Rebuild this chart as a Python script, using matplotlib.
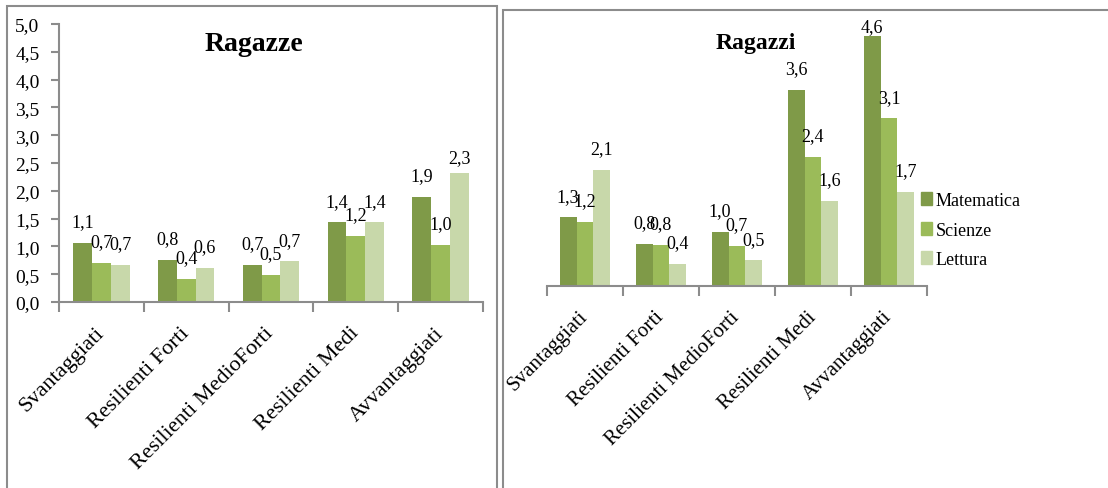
import numpy as np
import matplotlib
matplotlib.use("Agg")
from matplotlib import pyplot as plt
from matplotlib.patches import Rectangle, Patch

plt.rcParams['font.family'] = ['Liberation Serif', 'DejaVu Serif']

categorie = ["Svantaggiati", "Resilienti Forti", "Resilienti MedioForti",
             "Resilienti Medi", "Avvantaggiati"]
materie = ["Matematica", "Scienze", "Lettura"]
colori = ["#7f9a48", "#9bbb59", "#c8d8aa"]

# Ragazze
f_mat = [1.07, 0.76, 0.67, 1.43, 1.89]
f_sci = [0.70, 0.41, 0.49, 1.19, 1.03]
f_let = [0.67, 0.62, 0.73, 1.43, 2.32]

# Ragazzi
m_mat = [1.26, 0.78, 1.00, 3.60, 4.60]
m_sci = [1.18, 0.76, 0.74, 2.37, 3.08]
m_let = [2.14, 0.40, 0.47, 1.56, 1.73]

W, H = 1108, 489
fig = plt.figure(figsize=(W / 100, H / 100), dpi=100)

# cornici dei due riquadri
fig.patches.append(Rectangle((7 / W, -0.05), 490 / W, 1.05 - 7 / H, transform=fig.transFigure,
                             fill=False, ec="#8c8c8c", lw=1.5))
fig.patches.append(Rectangle((503 / W, -0.05), 0.6, 1.05 - 11 / H, transform=fig.transFigure,
                             fill=False, ec="#8c8c8c", lw=1.5))

ax1 = fig.add_axes([59 / W, (H - 303) / H, 424 / W, 278 / H])
ax2 = fig.add_axes([547 / W, (H - 287) / H, 380 / W, 272 / H])

x = np.arange(len(categorie))
w = 1 / 4.5
grigio = "#8c8c8c"


def etichetta(v):
    return "{:.1f}".format(v).replace(".", ",")


def disegna(ax, serie, titolo, alzati, fs_cat, fs_tit, pos_tit):
    for i, (vals, col) in enumerate(zip(serie, colori)):
        bars = ax.bar(x + (i - 1) * w, vals, w, color=col, label=materie[i])
        for j, (b, v) in enumerate(zip(bars, vals)):
            dy = alzati.get((i, j), 12)
            ax.annotate(etichetta(v), (b.get_x() + b.get_width() / 2, v),
                        xytext=(0, dy), textcoords="offset points",
                        ha="center", va="baseline", fontsize=13, annotation_clip=False)
    ax.set_xlim(-0.5, len(categorie) - 0.5)
    ax.set_ylim(0, 5)
    ax.set_xticks(np.arange(-0.5, len(categorie)), [""] * (len(categorie) + 1))
    ax.set_xticks(x, minor=True)
    ax.set_xticklabels(categorie, minor=True, rotation=45, ha="right", va="center",
                       rotation_mode="anchor", fontsize=fs_cat)
    ax.tick_params(axis="x", which="major", length=7, width=1.5, color=grigio)
    ax.tick_params(axis="x", which="minor", length=0, pad=20)
    ax.spines[["top", "right"]].set_visible(False)
    ax.spines["bottom"].set_color(grigio)
    ax.spines["bottom"].set_linewidth(1.5)
    ax.text(pos_tit[0], pos_tit[1], titolo, transform=ax.transAxes, ha="center", va="center",
            fontsize=fs_tit, fontweight="bold")


disegna(ax1, [f_mat, f_sci, f_let], "Ragazze", {(2, 4): 8}, 16, 20, (0.46, 0.93))
disegna(ax2, [m_mat, m_sci, m_let], "Ragazzi", {(0, 4): 3}, 15, 17, (0.55, 0.895))

# asse y solo a sinistra
ax1.set_yticks(np.arange(0, 5.01, 0.5))
ax1.set_yticklabels([etichetta(v) for v in np.arange(0, 5.01, 0.5)], fontsize=14)
ax1.tick_params(axis="y", length=6, width=1.5, color=grigio, pad=8)
ax1.spines["left"].set_color(grigio)
ax1.spines["left"].set_linewidth(1.5)

ax2.spines["left"].set_visible(False)
ax2.set_yticks([])

maniglie = [Patch(color=c) for c in colori]
fig.legend(maniglie, materie, loc="center left", bbox_to_anchor=(921 / W, (H - 231) / H),
           frameon=False, fontsize=13, handlelength=0.6, handleheight=0.75,
           handletextpad=0.2, labelspacing=0.7, borderpad=0, borderaxespad=0)

fig.savefig("out.png", dpi=100)
